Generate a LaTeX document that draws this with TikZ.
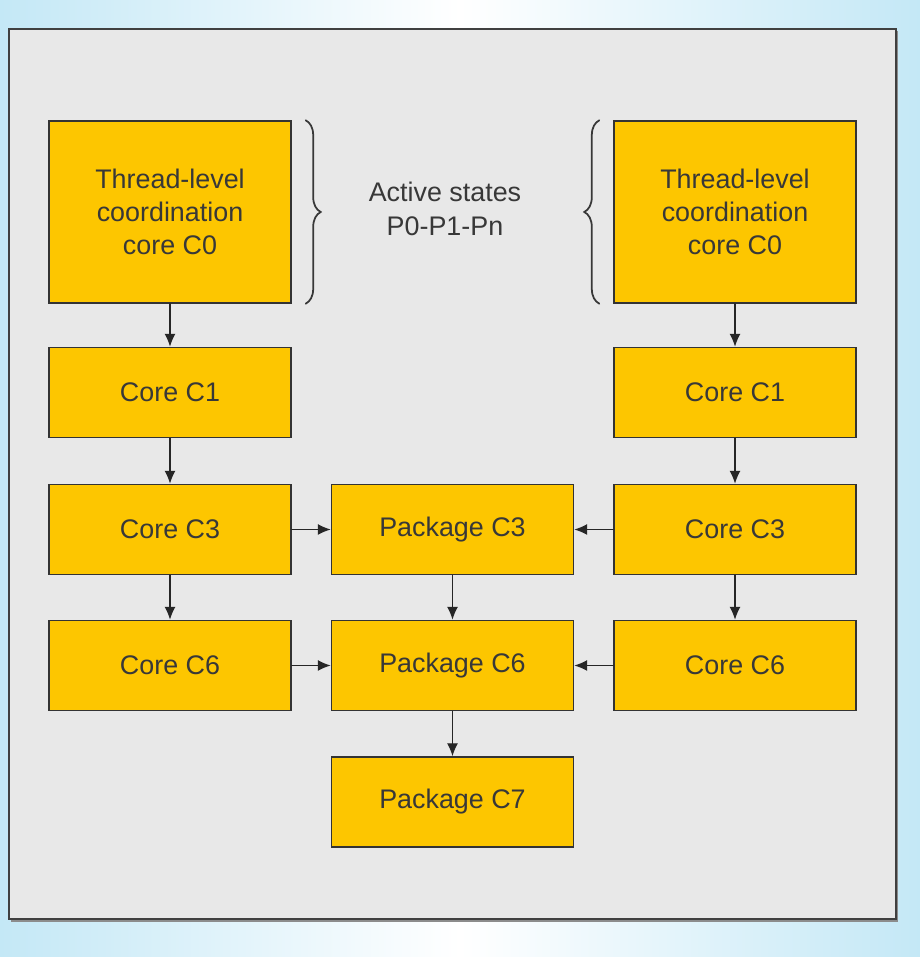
\documentclass[tikz,border=0pt]{standalone}
\usepackage{fontspec}
\setmainfont{Liberation Sans}
\usepackage{tikz}
\usetikzlibrary{arrows.meta,decorations.pathreplacing}
\usepackage{xcolor}
\definecolor{stateyellow}{HTML}{FDC600}
\definecolor{panelgray}{HTML}{E8E8E8}
\definecolor{skyblue}{HTML}{C4E8F6}
\definecolor{textgray}{HTML}{383838}

\begin{document}
\begin{tikzpicture}[>={Latex[length=2.6mm,width=2.2mm]},font=\fontsize{15.3}{18.9}\selectfont,line cap=round,
  state/.style={draw=black!80,line width=0.8pt,fill=stateyellow,text=textgray,align=center,
    minimum width=4.84cm,minimum height=1.8cm,inner sep=0pt},
  link/.style={->,line width=0.75pt,black!85},
  bracket/.style={decorate,decoration={brace,amplitude=0.3cm},line width=1pt,black!78}]
\useasboundingbox (0,0) rectangle (18.4,19.14);
\shade[left color=skyblue,right color=skyblue,middle color=white] (0,0) rectangle (18.4,19.14);
\fill[black!45] (0.22,0.70) rectangle (17.96,18.52);
\draw[fill=panelgray,draw=black!75,line width=1.1pt] (0.18,0.76) rectangle (17.92,18.56);
% left cores
\node[state,minimum height=3.64cm] (l0) at (3.4,14.9) {Thread-level\\coordination\\core C0};
\node[state] (l1) at (3.4,11.29) {Core C1};
\node[state] (l3) at (3.4,8.55) {Core C3};
\node[state] (l6) at (3.4,5.83) {Core C6};
% right cores
\node[state,minimum height=3.64cm] (r0) at (14.7,14.9) {Thread-level\\coordination\\core C0};
\node[state] (r1) at (14.7,11.29) {Core C1};
\node[state] (r3) at (14.7,8.55) {Core C3};
\node[state] (r6) at (14.7,5.83) {Core C6};
% package
\node[state] (p3) at (9.05,8.55) {Package C3};
\node[state] (p6) at (9.05,5.83) {Package C6};
\node[state] (p7) at (9.05,3.1) {Package C7};
\node[text=textgray,align=center] (act) at (8.9,14.96) {Active states\\P0-P1-Pn};
\draw[bracket] ([xshift=0.28cm]l0.north east) -- ([xshift=0.28cm]l0.south east);
\draw[bracket] ([xshift=-0.28cm]r0.south west) -- ([xshift=-0.28cm]r0.north west);
\draw[link] (l0) -- (l1);
\draw[link] (l1) -- (l3);
\draw[link] (l3) -- (l6);
\draw[link] (r0) -- (r1);
\draw[link] (r1) -- (r3);
\draw[link] (r3) -- (r6);
\draw[link] (l3) -- (p3);
\draw[link] (r3) -- (p3);
\draw[link] (l6) -- (p6);
\draw[link] (r6) -- (p6);
\draw[link] (p3) -- (p6);
\draw[link] (p6) -- (p7);
\end{tikzpicture}
\end{document}
